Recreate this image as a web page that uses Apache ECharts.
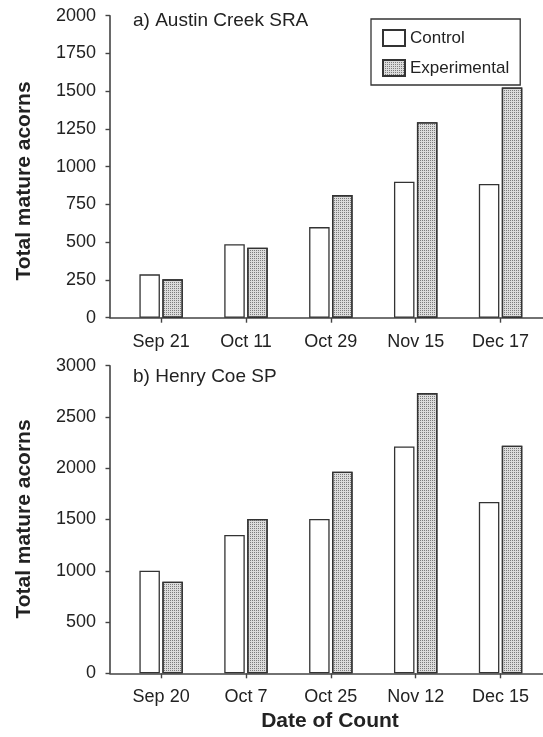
<!DOCTYPE html>
<html>
<head>
<meta charset="utf-8">
<script src="https://cdn.jsdelivr.net/npm/echarts@6/dist/echarts.min.js"></script>
<style>
  html, body { margin: 0; padding: 0; background: #fff; }
  #chart { width: 543px; height: 737px; }
</style>
</head>
<body>
<div id="chart"></div>
<script>
// Panel a) Austin Creek SRA
const datesA = ['Sep 21', 'Oct 11', 'Oct 29', 'Nov 15', 'Dec 17'];
const controlA = [287, 486, 600, 901, 885];
const experimentalA = [254, 464, 812, 1294, 1525];

// Panel b) Henry Coe SP
const datesB = ['Sep 20', 'Oct 7', 'Oct 25', 'Nov 12', 'Dec 15'];
const controlB = [1000, 1349, 1505, 2213, 1670];
const experimentalB = [894, 1505, 1966, 2733, 2220];

const seriesNames = ['Control', 'Experimental'];
const titleA = 'a) Austin Creek SRA';
const titleB = 'b) Henry Coe SP';
const yTitle = 'Total mature acorns';
const xTitle = 'Date of Count';

const FONT = '"Liberation Sans", Arial, sans-serif';
const INK = '#222';
const AXIS = '#444';

const chart = echarts.init(document.getElementById('chart'), null, { renderer: 'canvas' });

// stippled fill for the experimental bars
const stipple = {
  symbol: 'rect',
  symbolSize: 1,
  dashArrayX: [1, 1],
  dashArrayY: [1, 1],
  color: 'rgba(100,100,100,0.8)'
};

const controlStyle = { color: '#fff', borderColor: '#333', borderWidth: 1.3 };
const expStyle = { color: '#dcdcdc', borderColor: '#333', borderWidth: 1.3, decal: stipple };

function frameX(gridIndex, dates) {
  return {
    type: 'category', gridIndex, data: dates,
    axisLine: { show: true, lineStyle: { color: AXIS, width: 1.6 } },
    axisTick: { show: false }, axisLabel: { show: false }, splitLine: { show: false }
  };
}
function barX(gridIndex, dates) {
  return {
    type: 'category', gridIndex, data: dates,
    axisLine: { show: false },
    axisTick: { show: true, alignWithLabel: true, length: 5, lineStyle: { color: AXIS, width: 1.4 } },
    axisLabel: { show: true, margin: 15, color: INK, fontFamily: FONT, fontSize: 18 },
    splitLine: { show: false }
  };
}
function frameY(gridIndex, max, interval) {
  return {
    type: 'value', gridIndex, min: 0, max, interval,
    axisLine: { show: true, lineStyle: { color: AXIS, width: 1.6 } },
    axisTick: { show: true, length: 4.5, lineStyle: { color: AXIS, width: 1.4 } },
    axisLabel: { margin: 14, color: INK, fontFamily: FONT, fontSize: 18, formatter: v => String(v) },
    splitLine: { show: false }
  };
}
function barY(gridIndex, max, interval) {
  return { type: 'value', gridIndex, min: 0, max, interval, show: false, splitLine: { show: false } };
}
function bars(name, data, idx, style) {
  return {
    name, type: 'bar', data, xAxisIndex: idx, yAxisIndex: idx,
    barWidth: 20.5, barGap: '12%', itemStyle: style, emphasis: { disabled: true },
    animation: false
  };
}

chart.setOption({
  animation: false,
  aria: { enabled: true, decal: { show: false } },
  grid: [
    { left: 110, right: 0, top: 15.7, bottom: 419.3 },
    { left: 118.7, right: -8.7, top: 15.7, bottom: 419.3 },
    { left: 110, right: 0, top: 365.7, bottom: 63.7 },
    { left: 118.7, right: -8.7, top: 365.7, bottom: 63.7 }
  ],
  xAxis: [frameX(0, datesA), barX(1, datesA), frameX(2, datesB), barX(3, datesB)],
  yAxis: [frameY(0, 2000, 250), barY(1, 2000, 250), frameY(2, 3000, 500), barY(3, 3000, 500)],
  title: [
    { text: titleA, left: 133, top: 11, padding: 0, textStyle: { fontFamily: FONT, fontSize: 19, fontWeight: 'normal', color: INK } },
    { text: titleB, left: 133, top: 367, padding: 0, textStyle: { fontFamily: FONT, fontSize: 19, fontWeight: 'normal', color: INK } }
  ],
  legend: {
    data: seriesNames.map(n => ({ name: n, icon: 'rect' })),
    orient: 'vertical',
    left: 371, top: 19,
    padding: [10, 11, 8, 11],
    itemWidth: 22, itemHeight: 16, itemGap: 12,
    borderColor: '#333', borderWidth: 1.3,
    textStyle: { fontFamily: FONT, fontSize: 17, color: INK },
    selectedMode: false
  },
  graphic: [
    { type: 'text', x: 24, y: 181, rotation: Math.PI / 2,
      style: { text: yTitle, font: 'bold 21px ' + FONT, fill: INK, textAlign: 'center', textVerticalAlign: 'middle' } },
    { type: 'text', x: 24, y: 519, rotation: Math.PI / 2,
      style: { text: yTitle, font: 'bold 21px ' + FONT, fill: INK, textAlign: 'center', textVerticalAlign: 'middle' } },
    { type: 'text', x: 330, y: 721,
      style: { text: xTitle, font: 'bold 21px ' + FONT, fill: INK, textAlign: 'center', textVerticalAlign: 'middle' } }
  ],
  series: [
    bars(seriesNames[0], controlA, 1, controlStyle),
    bars(seriesNames[1], experimentalA, 1, expStyle),
    bars(seriesNames[0], controlB, 3, controlStyle),
    bars(seriesNames[1], experimentalB, 3, expStyle)
  ]
});
</script>
</body>
</html>
